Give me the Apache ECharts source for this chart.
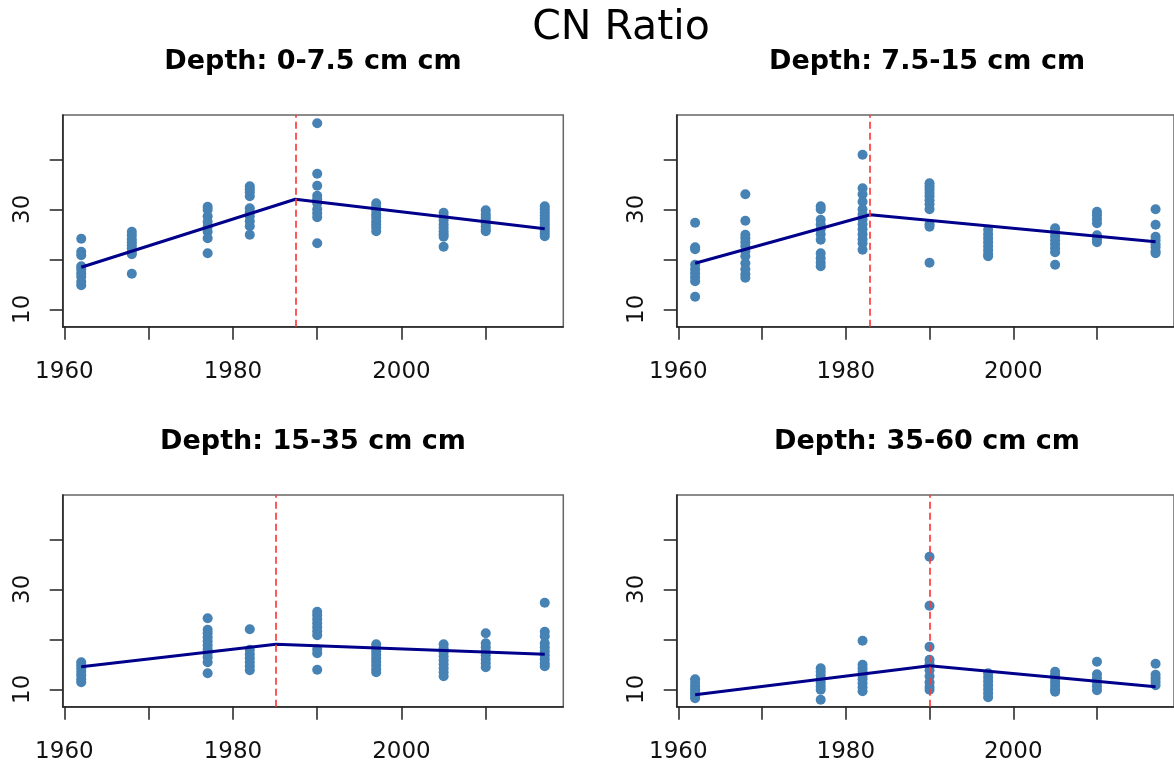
<!DOCTYPE html>
<html>
<head>
<meta charset="utf-8">
<script src="https://cdn.jsdelivr.net/npm/echarts@6/dist/echarts.min.js"></script>
<style>
html,body{margin:0;padding:0;background:#fff;}
#chart{width:1174px;height:770px;}
</style>
</head>
<body>
<div id="chart"></div>
<script>
// ---- data ----
const mainTitle = 'CN Ratio';
const panelTitles = ['Depth: 0-7.5 cm cm', 'Depth: 7.5-15 cm cm', 'Depth: 15-35 cm cm', 'Depth: 35-60 cm cm'];
const years = [1962, 1968, 1977, 1982, 1990, 1997, 2005, 2010, 2017];

const depth0_7_5 = [
  [24.1, 21.5, 20.8, 18.6, 18.0, 17.2, 16.5, 15.5, 14.8],
  [25.5, 24.8, 24.0, 23.4, 22.8, 22.2, 21.5, 21.0, 17.1],
  [30.5, 29.9, 28.6, 27.5, 26.5, 25.5, 24.2, 21.2],
  [34.6, 34.0, 33.4, 32.6, 30.2, 29.4, 28.6, 27.6, 26.6, 24.9],
  [47.2, 37.1, 34.7, 32.7, 32.0, 31.2, 30.0, 29.2, 28.4, 23.2],
  [31.2, 30.5, 29.8, 29.0, 28.4, 27.6, 27.0, 26.4, 25.6],
  [29.3, 28.5, 27.8, 27.0, 26.3, 25.6, 25.0, 24.5, 22.5],
  [29.8, 29.0, 28.4, 27.8, 27.2, 26.6, 26.0, 25.6],
  [30.6, 30.0, 29.4, 28.8, 28.2, 27.6, 27.0, 26.4, 25.8, 25.2, 24.6]
];
const depth7_5_15 = [
  [27.3, 22.4, 22.0, 18.9, 18.0, 17.2, 16.4, 15.6, 12.5],
  [33.0, 27.7, 24.9, 24.2, 23.4, 22.6, 21.6, 20.6, 19.2, 18.0, 17.0, 16.3],
  [30.6, 30.0, 27.9, 27.0, 26.0, 25.0, 23.9, 21.2, 20.2, 19.3, 18.6],
  [40.9, 34.2, 33.0, 31.5, 30.0, 29.0, 28.0, 27.0, 26.0, 25.0, 24.0, 23.2, 21.9],
  [35.2, 34.6, 34.0, 33.3, 32.6, 31.8, 31.0, 30.0, 27.0, 26.5, 19.3],
  [25.9, 25.0, 24.2, 23.4, 22.6, 21.8, 21.0, 20.6],
  [26.2, 25.4, 24.6, 23.8, 23.0, 22.2, 21.4, 18.9],
  [29.5, 28.8, 28.0, 27.2, 24.8, 24.0, 23.4],
  [30.0, 26.9, 24.5, 23.8, 23.0, 22.4, 21.6, 21.2]
];
const depth15_35 = [
  [15.4, 14.8, 14.2, 13.5, 12.8, 12.0, 11.4],
  [],
  [24.2, 21.9, 21.2, 20.4, 19.6, 18.8, 18.0, 17.2, 16.4, 15.4, 13.2],
  [22.0, 17.9, 17.0, 16.2, 15.4, 14.6, 13.8],
  [25.5, 24.8, 24.0, 23.2, 22.4, 21.6, 20.8, 18.0, 17.2, 13.9],
  [19.0, 18.3, 17.6, 16.9, 16.2, 15.5, 14.8, 14.0, 13.4],
  [19.0, 18.2, 17.4, 16.6, 15.8, 15.0, 14.2, 13.4, 12.6],
  [21.2, 19.2, 18.4, 17.6, 16.8, 16.0, 15.2, 14.4],
  [27.3, 21.5, 20.6, 19.2, 18.4, 17.6, 16.8, 16.0, 15.2, 14.6]
];
const depth35_60 = [
  [12.0, 11.3, 10.6, 10.0, 9.4, 8.8, 8.2],
  [],
  [14.2, 13.5, 12.8, 12.0, 11.3, 10.6, 9.9, 7.9],
  [19.7, 14.9, 14.2, 13.5, 12.7, 12.0, 11.2, 10.4, 9.6],
  [36.5, 26.7, 18.5, 15.9, 15.0, 13.8, 12.6, 11.4, 10.5, 9.9],
  [13.2, 12.4, 11.6, 10.8, 10.0, 9.2, 8.4],
  [13.5, 12.8, 12.1, 11.4, 10.7, 10.0, 9.5],
  [15.5, 13.0, 12.2, 11.4, 10.6, 9.8],
  [15.1, 12.9, 12.2, 11.5, 10.8]
];

// segmented fit: value at first year, value at breakpoint, value at last year
const breakpoints = [1987.4, 1982.9, 1985.1, 1990.0];
const fitStart = [18.4, 19.2, 14.5, 8.9];
const fitPeak = [32.0, 28.9, 19.0, 14.7];
const fitEnd = [26.1, 23.5, 17.0, 10.5];

const xTicks = [1960, 1970, 1980, 1990, 2000, 2010];
const xLabels = [1960, 1980, 2000];
const yTicks = [10, 20, 30, 40];
const yLabels = [10, 30];

// ---- chart ----
const panelValues = [depth0_7_5, depth7_5_15, depth15_35, depth35_60];
const FONT = 'DejaVu Sans';
const gridPos = [
  {left: 62.7, top: 115},
  {left: 676.7, top: 115},
  {left: 62.7, top: 495},
  {left: 676.7, top: 495}
];
const GW = 500.6, GH = 211.7;

const grids = [], xAxes = [], yAxes = [], series = [], graphics = [];
gridPos.forEach((g, i) => {
  grids.push({left: g.left, top: g.top, width: GW, height: GH, show: true,
    borderColor: '#666', borderWidth: 1.5, backgroundColor: 'transparent', containLabel: false});
  xAxes.push({
    type: 'value', gridIndex: i, min: 1959.8, max: 2019.2,
    axisLine: {show: true, onZero: false, lineStyle: {color: '#222', width: 1.5}},
    axisTick: {show: true, length: 13, customValues: xTicks, lineStyle: {color: '#222', width: 1.5}},
    axisLabel: {show: true, customValues: xLabels, margin: 34, fontSize: 23, fontFamily: FONT, color: '#111',
      formatter: v => String(v)},
    splitLine: {show: false}
  });
  yAxes.push({
    type: 'value', gridIndex: i, min: 6.52, max: 48.86,
    axisLine: {show: true, onZero: false, lineStyle: {color: '#222', width: 1.5}},
    axisTick: {show: true, length: 13, customValues: yTicks, lineStyle: {color: '#222', width: 1.5}},
    axisLabel: {show: true, customValues: yLabels, rotate: 90, margin: 28, fontSize: 23, fontFamily: FONT, color: '#111',
      formatter: v => String(v)},
    splitLine: {show: false}
  });
  const pts = [];
  panelValues[i].forEach((vals, k) => vals.forEach(v => pts.push([years[k], v])));
  series.push({
    type: 'scatter', xAxisIndex: i, yAxisIndex: i, data: pts,
    symbol: 'circle', symbolSize: 10, itemStyle: {color: '#4682B4', opacity: 1},
    silent: true, z: 2
  });
  series.push({
    type: 'line', xAxisIndex: i, yAxisIndex: i,
    data: [[years[0], fitStart[i]], [breakpoints[i], fitPeak[i]], [years[years.length - 1], fitEnd[i]]],
    symbol: 'none', lineStyle: {color: '#00008B', width: 3}, silent: true, z: 3,
    markLine: {
      silent: true, symbol: 'none', label: {show: false},
      lineStyle: {color: '#ff3b3b', width: 2, type: [7, 4], opacity: 0.85},
      data: [{xAxis: breakpoints[i]}], z: 4
    }
  });
  graphics.push({
    type: 'text', x: g.left + GW / 2, y: g.top - 53,
    style: {text: panelTitles[i], font: 'bold 27px "DejaVu Sans"', fill: '#000', align: 'center', verticalAlign: 'middle'}
  });
});
graphics.push({
  type: 'text', x: 621, y: 28,
  style: {text: mainTitle, font: '41px "DejaVu Sans"', fill: '#000', align: 'center', verticalAlign: 'middle'}
});

const chart = echarts.init(document.getElementById('chart'), null, {renderer: 'canvas'});
chart.setOption({
  backgroundColor: '#fff',
  animation: false,
  grid: grids, xAxis: xAxes, yAxis: yAxes, series: series, graphic: graphics
});
</script>
</body>
</html>
